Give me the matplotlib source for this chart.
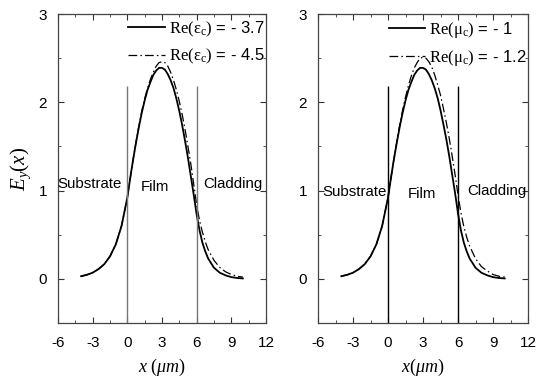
import numpy as np
import matplotlib
matplotlib.use("Agg")
import matplotlib.pyplot as plt
from matplotlib.ticker import MultipleLocator

plt.rcParams['font.family'] = ['Liberation Sans', 'DejaVu Sans']
plt.rcParams['mathtext.fontset'] = 'custom'
plt.rcParams['mathtext.rm'] = 'Liberation Serif'
plt.rcParams['mathtext.it'] = 'Liberation Serif:italic'
plt.rcParams['axes.unicode_minus'] = False

# field profiles
x_pts = [-4, -3.5, -3, -2.5, -2, -1.5, -1, -0.5, 0, 0.25, 0.5, 0.75, 1, 1.25, 1.5,
         1.75, 2, 2.25, 2.5, 2.75, 3, 3.25, 3.5, 3.75, 4, 4.25, 4.5, 4.75, 5, 5.25,
         5.5, 5.75, 6, 6.25, 6.5, 6.75, 7, 7.5, 8, 8.5, 9, 9.5, 10]
substrate = [0.03, 0.046, 0.07, 0.11, 0.166, 0.255, 0.39, 0.60, 0.92]

eps_37 = substrate + [1.14, 1.35, 1.54, 1.72, 1.88, 2.02, 2.14, 2.23, 2.31, 2.36,
                      2.39, 2.39, 2.37, 2.32, 2.25, 2.16, 2.04, 1.90, 1.74, 1.56,
                      1.37, 1.16, 0.95, 0.73, 0.55, 0.41, 0.31, 0.23, 0.126, 0.07,
                      0.04, 0.02, 0.01, 0.005]
eps_45 = substrate + [1.14, 1.35, 1.55, 1.73, 1.90, 2.04, 2.16, 2.26, 2.34, 2.41,
                      2.45, 2.46, 2.45, 2.41, 2.34, 2.25, 2.14, 2.01, 1.86, 1.69,
                      1.50, 1.30, 1.07, 0.84, 0.66, 0.53, 0.42, 0.33, 0.21, 0.13,
                      0.08, 0.05, 0.03, 0.02]
mu_10 = substrate + [1.14, 1.35, 1.54, 1.72, 1.88, 2.02, 2.14, 2.23, 2.31, 2.36,
                     2.39, 2.39, 2.37, 2.32, 2.25, 2.16, 2.05, 1.91, 1.75, 1.58,
                     1.39, 1.18, 0.97, 0.74, 0.55, 0.41, 0.31, 0.23, 0.126, 0.07,
                     0.04, 0.02, 0.01, 0.005]
mu_12 = substrate + [1.14, 1.35, 1.55, 1.74, 1.91, 2.06, 2.19, 2.30, 2.39, 2.45,
                     2.50, 2.51, 2.50, 2.46, 2.40, 2.31, 2.20, 2.08, 1.93, 1.77,
                     1.59, 1.39, 1.18, 0.95, 0.75, 0.59, 0.47, 0.37, 0.23, 0.14,
                     0.09, 0.05, 0.03, 0.02]

boundaries = [0, 6]
boundary_top = 2.18
region_names = ['Substrate', 'Film', 'Cladding']

panels = [
    dict(pos=[0.1082, 0.161, 0.388, 0.8026],
         curves=[(eps_37, r'$\mathrm{Re(\epsilon_c)}$ = - 3.7'),
                 (eps_45, r'$\mathrm{Re(\epsilon_c)}$ = - 4.5')],
         vcolor='#777777',
         region_xy=[(-6.05, 1.08, 'left'), (2.4, 1.04, 'center'), (6.55, 1.08, 'left')],
         xlabel=r'$x\ (\mu m)$', ylabel=r'$E_y(x)$'),
    dict(pos=[0.5933, 0.161, 0.3918, 0.8026],
         curves=[(mu_10, r'$\mathrm{Re(\mu_c)}$ = - 1'),
                 (mu_12, r'$\mathrm{Re(\mu_c)}$ = - 1.2')],
         vcolor='black',
         region_xy=[(-5.6, 0.98, 'left'), (2.9, 0.96, 'center'), (6.75, 1.0, 'left')],
         xlabel=r'$x(\mu m)$', ylabel=None),
]

fig = plt.figure(figsize=(5.36, 3.85), dpi=100)

for p in panels:
    ax = fig.add_axes(p['pos'])
    (y1, l1), (y2, l2) = p['curves']
    ax.plot(x_pts, y1, color='black', lw=1.3, ls='-', label=l1)
    ax.plot(x_pts, y2, color='black', lw=0.9, ls=(0, (7, 2.5, 1.2, 2.5)), label=l2)
    ax.vlines(boundaries, -0.5, boundary_top, color=p['vcolor'], lw=1.0)

    for name, (tx, ty, ha) in zip(region_names, p['region_xy']):
        ax.text(tx, ty, name, fontsize=10.8, va='center', ha=ha)

    ax.set_xlim(-6, 12)
    ax.set_ylim(-0.5, 3)
    ax.xaxis.set_major_locator(MultipleLocator(3))
    ax.xaxis.set_minor_locator(MultipleLocator(1.5))
    ax.yaxis.set_major_locator(MultipleLocator(1))
    ax.yaxis.set_minor_locator(MultipleLocator(0.5))
    ax.tick_params(which='both', direction='in', top=True, right=True,
                   labelsize=11, color='#333333')
    ax.tick_params(axis='x', which='major', pad=9)
    ax.tick_params(axis='y', which='major', pad=8)
    ax.tick_params(which='major', length=4)
    ax.tick_params(which='minor', length=2.5)
    for s in ax.spines.values():
        s.set_color('#444444')
        s.set_linewidth(0.9)

    ax.set_xlabel(p['xlabel'], fontsize=13, labelpad=5)
    if p['ylabel']:
        ax.set_ylabel(p['ylabel'], fontsize=15, labelpad=4)

    ax.legend(loc='upper right', bbox_to_anchor=(0.995, 0.982), frameon=False,
              fontsize=12, handlelength=2.2, handletextpad=0.25, labelspacing=0.5,
              borderaxespad=0.0, borderpad=0.0)

fig.savefig('out.png', dpi=100)
